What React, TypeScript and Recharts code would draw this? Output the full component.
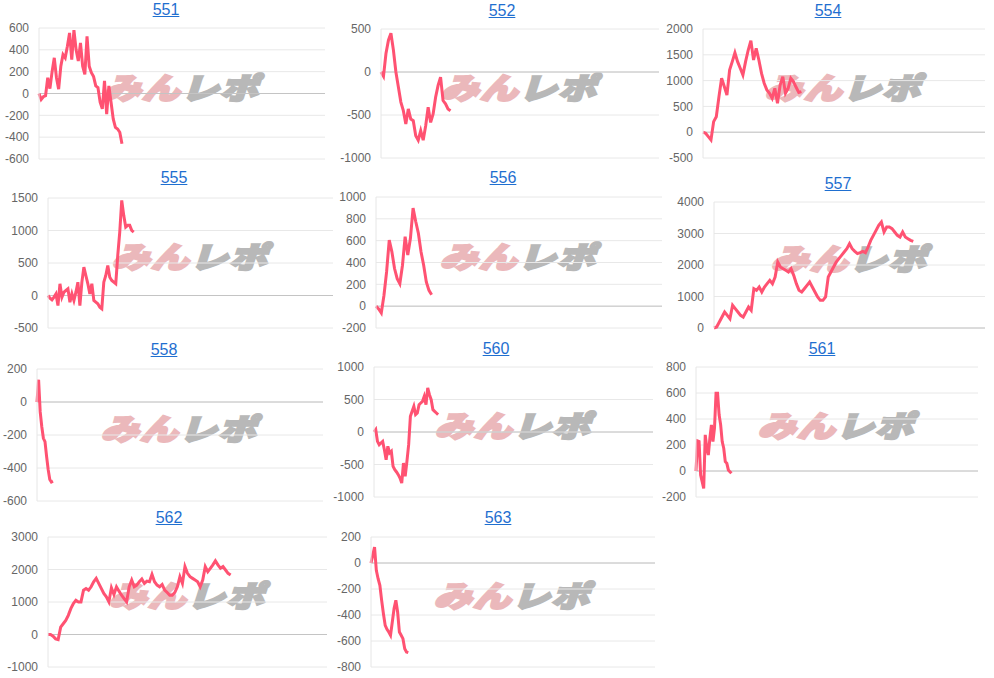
import { CartesianGrid, Line, LineChart, ReferenceLine, XAxis, YAxis } from "recharts";

const machines = ["551", "552", "554", "555", "556", "557", "558", "560", "561", "562", "563"];

const diff551 = [0, -55, -30, -20, 145, 45, 200, 327, 145, 40, 250, 357, 327, 433, 555, 310, 580, 400, 297, 464, 250, 175, 524, 250, 190, 155, 70, 55, -80, -140, 115, -190, 70, -80, -233, -310, -325, -355, -460];
const diff552 = [0, -50, 215, 370, 450, 254, 0, -175, -350, -450, -605, -430, -547, -566, -742, -793, -683, -793, -625, -410, -586, -488, -293, -156, -59, -332, -371, -430, -450];
const diff554 = [0, -20, -85, -150, 205, 300, 690, 1045, 885, 720, 1205, 1367, 1540, 1367, 1240, 1110, 1367, 1593, 1774, 1400, 1625, 1400, 1140, 950, 820, 755, 660, 850, 560, 915, 1077, 755, 850, 1045, 980, 870, 770, 787];
const diff555 = [0, -40, -67, -25, 25, -154, 180, -25, 51, 77, 103, -103, 25, -77, 51, 205, -154, 205, 437, 308, 180, 25, 180, -77, -103, -128, -180, -205, 205, 308, 462, 282, 231, 205, 180, 616, 976, 1464, 1233, 1053, 1079, 1079, 1002, 976];
const diff556 = [0, -25, -62, 98, 314, 606, 498, 345, 252, 206, 375, 637, 468, 622, 898, 775, 668, 498, 375, 222, 145, 105];
const diff557 = [0, 32, 190, 349, 508, 402, 296, 720, 614, 508, 402, 349, 508, 667, 561, 1248, 1196, 1301, 1143, 1301, 1407, 1513, 1407, 1619, 2095, 1936, 1883, 1830, 1777, 1883, 1672, 1407, 1196, 1143, 1248, 1354, 1460, 1301, 1143, 984, 878, 878, 984, 1619, 1777, 1936, 2095, 2201, 2307, 2412, 2518, 2677, 2518, 2433, 2360, 2391, 2433, 2391, 2571, 2783, 2941, 3100, 3259, 3364, 3047, 3206, 3206, 3153, 3047, 2941, 2888, 3047, 2888, 2835, 2783, 2751];
const diff558 = [0, 135, -60, -150, -220, -240, -330, -410, -470, -485, -480];
const diff560 = [0, 36, -144, -195, -169, -144, -272, -426, -220, -323, -297, -528, -580, -615, -656, -708, -785, -477, -682, -451, -195, 241, 318, 395, 267, 292, 420, 446, 472, 549, 420, 677, 574, 497, 344, 318, 292, 267];
const diff561 = [0, 231, 226, -31, -82, -134, 278, 175, 123, 252, 355, 226, 329, 599, 599, 432, 355, 226, 175, 72, 59, 8, -5, -18];
const diff562 = [0, 0, -52, -134, -155, 227, 331, 434, 589, 796, 951, 1055, 1003, 1003, 1365, 1417, 1365, 1468, 1624, 1727, 1572, 1417, 1262, 1158, 1003, 1437, 1230, 1468, 1334, 1210, 1106, 1003, 1468, 1675, 1468, 1520, 1624, 1706, 1572, 1644, 1624, 1851, 1624, 1520, 1468, 1541, 1365, 1292, 1210, 1210, 1292, 1468, 1778, 1572, 2089, 1882, 1778, 1727, 1675, 1624, 1468, 1675, 2089, 1934, 2037, 2141, 2265, 2141, 2037, 2089, 1985, 1882, 1830];
const diff563 = [0, 59, 123, -56, -121, -172, -287, -390, -480, -510, -531, -556, -454, -351, -287, -377, -531, -556, -582, -659, -685, -690];

const series = [diff551, diff552, diff554, diff555, diff556, diff557, diff558, diff560, diff561, diff562, diff563];

const ticks551 = [-600, -400, -200, 0, 200, 400, 600];
const ticks552 = [-1000, -500, 0, 500];
const ticks554 = [-500, 0, 500, 1000, 1500, 2000];
const ticks555 = [-500, 0, 500, 1000, 1500];
const ticks556 = [-200, 0, 200, 400, 600, 800, 1000];
const ticks557 = [0, 1000, 2000, 3000, 4000];
const ticks558 = [-600, -400, -200, 0, 200];
const ticks560 = [-1000, -500, 0, 500, 1000];
const ticks561 = [-200, 0, 200, 400, 600, 800];
const ticks562 = [-1000, 0, 1000, 2000, 3000];
const ticks563 = [-800, -600, -400, -200, 0, 200];

const yTicks = [ticks551, ticks552, ticks554, ticks555, ticks556, ticks557, ticks558, ticks560, ticks561, ticks562, ticks563];

// number of game slots on each x scale (the day's capacity)
const xSlots = [131, 112, 106, 143, 108, 102, 179, 161, 183, 110, 160];

// plot boxes: left, top, right, bottom
const boxes = [
  [39, 28, 325, 159],
  [381, 29, 659, 158],
  [703, 29, 985, 158],
  [48, 198, 333, 328],
  [376, 197, 662, 328],
  [714, 202, 985, 328],
  [37, 369, 323, 501],
  [374, 367, 653, 497],
  [696, 367, 978, 497],
  [48, 537, 327, 667],
  [371, 537, 655, 667],
];

const titleAt = [
  [166, 10], [502, 11], [828, 11],
  [174, 178], [503, 178], [838, 184],
  [164, 350], [496, 349], [822, 349],
  [169, 518], [498, 518],
];

const LINE = "#ff5272";
const AXIS_W = 50;
const PAD = 10;

function Panel({ idx }: { idx: number }) {
  const [x0, y0, x1, y1] = boxes[idx];
  const ticks = yTicks[idx];
  const data = series[idx].map((v, i) => ({ i, v }));
  const left = x0 - AXIS_W;
  const top = y0 - PAD;
  const width = x1 - left + 6;
  const height = y1 - y0 + PAD * 2;
  const [tx, ty] = titleAt[idx];
  const cx = (x0 + x1) / 2 + 3;
  const cy = (y0 + y1) / 2 - 8;

  return (
    <>
      <a
        href="#"
        style={{
          position: "absolute",
          left: tx,
          top: ty,
          transform: "translate(-50%, -50%)",
          color: "#1f6fd0",
          fontSize: 16,
          fontFamily: "'Liberation Sans', Arial, sans-serif",
          lineHeight: 1,
        }}
      >
        {machines[idx]}
      </a>
      <div
        style={{
          position: "absolute",
          left: cx,
          top: cy,
          transform: "translate(-50%, -50%) scale(1.22, 0.95) skewX(-14deg)",
          fontFamily: "'Noto Sans CJK JP', sans-serif",
          fontWeight: 900,
          fontSize: 31,
          lineHeight: 1,
          whiteSpace: "nowrap",
          letterSpacing: 1,
        }}
      >
        <span style={{ color: "#ebb8bb", WebkitTextStroke: "2.5px #ebb8bb" }}>みん</span>
        <span style={{ color: "#b8b8b8", WebkitTextStroke: "2.5px #b8b8b8" }}>レポ</span>
      </div>
      <div style={{ position: "absolute", left, top }}>
        <LineChart width={width} height={height} data={data} margin={{ top: PAD, right: 6, bottom: PAD, left: 0 }}>
          <CartesianGrid vertical={false} stroke="#e8e8e8" />
          <XAxis
            dataKey="i"
            type="number"
            domain={[0, xSlots[idx]]}
            height={0}
            tick={false}
            tickLine={false}
            axisLine={{ stroke: "#d6d6d6" }}
          />
          <YAxis
            width={AXIS_W}
            domain={[ticks[0], ticks[ticks.length - 1]]}
            ticks={ticks}
            interval={0}
            tickLine={false}
            tickMargin={4}
            axisLine={{ stroke: "#e6e6e6" }}
            tick={{ fill: "#666", fontSize: 12, fontFamily: "'Liberation Sans', Arial, sans-serif" }}
          />
          <ReferenceLine y={0} stroke="#c4c4c4" />
          <Line
            dataKey="v"
            type="linear"
            stroke={LINE}
            strokeWidth={3}
            dot={false}
            isAnimationActive={false}
          />
        </LineChart>
      </div>
    </>
  );
}

export default function App() {
  return (
    <div style={{ position: "relative", width: 994, height: 678, background: "#fff", overflow: "hidden" }}>
      <style>{"body{margin:0}"}</style>
      {machines.map((m, i) => (
        <Panel key={m} idx={i} />
      ))}
    </div>
  );
}
